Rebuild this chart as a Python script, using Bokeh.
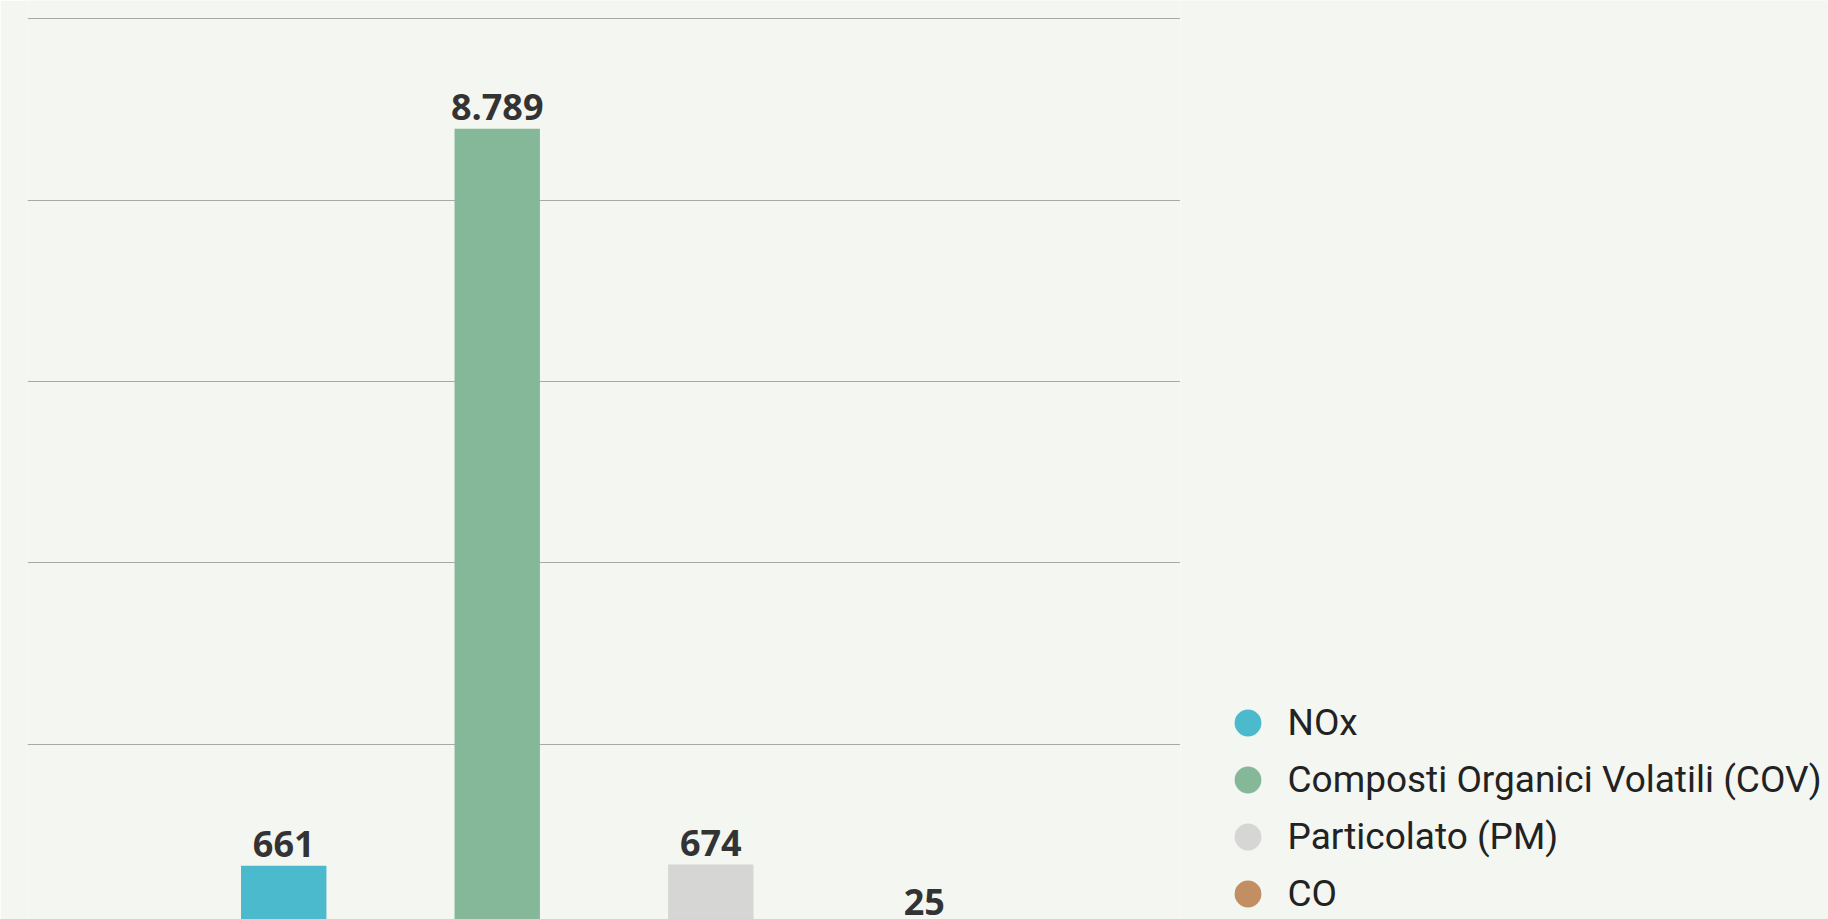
from bokeh.plotting import figure
from bokeh.layouts import row
from bokeh.core.properties import value
from bokeh.models import (ColumnDataSource, FactorRange, Range1d, LabelSet,
                          Legend, LegendItem, FixedTicker)
from bokeh.embed import file_html
from bokeh.resources import INLINE

# ---- data ----
categories = ["NOx", "Composti Organici Volatili (COV)", "Particolato (PM)", "CO"]
values = [661, 8789, 674, 25]
colors = ["#4bbacd", "#85b899", "#d6d6d5", "#c18f61"]
grid_ticks = [0, 2000, 4000, 6000, 8000, 10000]

labels = [f"{v:,}".replace(",", ".") for v in values]

src = ColumnDataSource(dict(cat=categories, val=values, color=colors, label=labels))

BG = "#f4f6f1"

p = figure(
    width=1180, height=919,
    x_range=FactorRange(factors=categories, range_padding=0.7,
                        range_padding_units="absolute"),
    y_range=Range1d(67, 10204),
    output_backend="svg", toolbar_location=None,
    x_axis_location=None, y_axis_location=None,
    min_border_left=27, min_border_right=0,
    min_border_top=0, min_border_bottom=0,
    background_fill_color=BG, border_fill_color=BG,
    outline_line_color=None,
)

p.xgrid.grid_line_color = None
p.ygrid.ticker = FixedTicker(ticks=grid_ticks)
p.ygrid.grid_line_color = "#a9a9a9"
p.ygrid.grid_line_width = 1

p.vbar(x="cat", top="val", width=0.4, bottom=0, source=src,
       fill_color="color", line_color=None)

lbl = LabelSet(x="cat", y="val", text="label", source=src,
               text_align="center", text_baseline="alphabetic",
               y_offset=8.5, text_font=value("Open Sans"),
               text_font_style="bold",
               text_font_size="36px", text_color="#333333")
p.add_layout(lbl)

# ---- legend panel ----
pl = figure(
    width=648, height=919,
    x_range=FactorRange(factors=categories),
    output_backend="svg", toolbar_location=None,
    x_axis_location=None, y_axis_location=None,
    min_border_left=0, min_border_right=0,
    min_border_top=0, min_border_bottom=0,
    background_fill_color=BG, border_fill_color=BG,
    outline_line_color=None,
)
pl.grid.grid_line_color = None
r_leg = pl.scatter(x="cat", y="val", source=src, marker="circle", size=10,
                   fill_color="color", line_color="color", line_width=4,
                   visible=False)

items = [LegendItem(label=c, renderers=[r_leg], index=i)
         for i, c in enumerate(categories)]
legend = Legend(items=items, location=(38.5, -2.5),
                glyph_width=57, glyph_height=57, spacing=0,
                label_standoff=12, padding=0, margin=0,
                label_text_font="Roboto", label_text_font_size="37px",
                label_text_color="#222222",
                background_fill_alpha=0, border_line_color=None)
pl.add_layout(legend)

layout = row(p, pl, spacing=0)

open("out.html", "w").write(file_html(layout, INLINE))
